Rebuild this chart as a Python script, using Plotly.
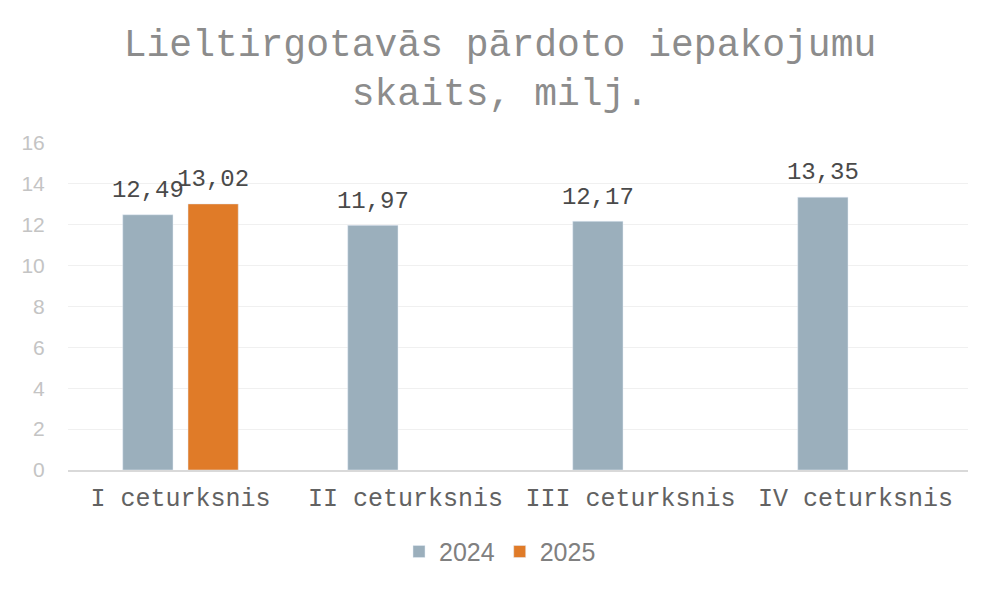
import plotly.graph_objects as go

categories = ["I ceturksnis", "II ceturksnis", "III ceturksnis", "IV ceturksnis"]
values_2024 = [12.49, 11.97, 12.17, 13.35]
values_2025 = [13.02, None, None, None]
y_ticks = [0, 2, 4, 6, 8, 10, 12, 14, 16]

mono = "Liberation Mono"
sans = "Liberation Sans"
label_tpl = "<span style='font-size:24px'>%{y:.2f}</span><br> "

fig = go.Figure()
for name, vals, col in [("2024", values_2024, "#9BAFBC"), ("2025", values_2025, "#E07B28")]:
    fig.add_trace(go.Bar(
        name=name, x=categories, y=vals,
        marker=dict(color=col),
        texttemplate=label_tpl, textposition="outside",
        textfont=dict(family=mono, size=9, color="#4A4A4A"),
        constraintext="none", cliponaxis=False,
    ))

fig.update_layout(
    width=1000, height=591,
    paper_bgcolor="white", plot_bgcolor="white",
    separators=", ",
    margin=dict(l=68, r=32, t=143, b=121, autoexpand=False),
    barmode="group", bargap=0.42, bargroupgap=0.23,
    title=dict(
        text="Lieltirgotavās pārdoto iepakojumu<br>skaits, milj.",
        x=0.5, xanchor="center", y=0.906, yanchor="middle", yref="container",
        font=dict(family=mono, size=38, color="#8C8C8C"),
    ),
    xaxis=dict(
        tickfont=dict(family=mono, size=25, color="#626262"),
        showline=True, linecolor="#D9D9D9", linewidth=1.5,
        ticks="outside", ticklen=4, tickcolor="rgba(0,0,0,0)",
        showgrid=False, automargin=False,
    ),
    yaxis=dict(
        range=[0, 16], tickvals=y_ticks,
        tickfont=dict(family=sans, size=21, color="#C4C4C4"),
        showgrid=True, gridcolor="#F0F0F0", zeroline=False,
        showline=False, ticks="outside", ticklen=18, tickcolor="rgba(0,0,0,0)",
        automargin=False,
    ),
    legend=dict(
        orientation="h", x=0.48, xanchor="center", y=-0.25, yanchor="middle",
        font=dict(family=sans, size=25, color="#808080"),
        itemwidth=30, traceorder="normal",
    ),
)

fig.write_html(
    "out.html",
    config={"displayModeBar": False},
    post_script="document.body.style.margin='0';document.body.style.overflow='hidden';",
)
